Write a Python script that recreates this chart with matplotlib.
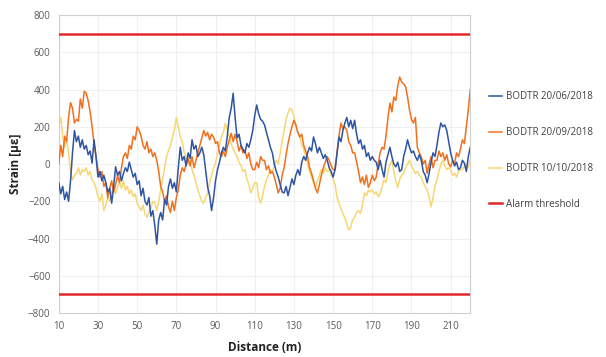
import matplotlib
matplotlib.use("Agg")
import matplotlib.pyplot as plt

distance = list(range(10, 221))

bodtr_2006 = [
    -100, -160, -120, -190, -150, -200, -90, 60, 180, 120,
    150, 90, 130, 80, 100, 50, 70, 5, 130, 40,
    -70, -40, -90, -60, -100, -150, -130, -210, -120, -15,
    -60, -40, -90, -50, -20, -40, 10, -30, -70, -50,
    -110, -90, -170, -130, -200, -220, -180, -280, -250, -330,
    -430, -300, -260, -300, -190, -220, -120, -80, -130, -100,
    -150, -20, 90, 20, 40, -10, 60, 30, 130, 80,
    100, 40, 60, 90, 50, -40, -125, -170, -250, -180,
    -90, -30, 10, 60, 90, 70, 150, 250, 300, 380,
    250, 140, 160, 100, 80, 60, 110, 90, 130, 180,
    260, 317, 270, 240, 230, 210, 170, 130, 90, 60,
    0, -40, -70, -110, -150, -155, -120, -170, -125, -80,
    -110, -60, -30, -60, 10, 40, 20, 60, 90, 70,
    145, 110, 60, 90, 60, 30, 50, 20, -20, -40,
    -70, -30, 60, 145, 120, 180, 220, 250, 200, 235,
    190, 235, 160, 110, 130, 80, 100, 40, 60, 20,
    40, 20, 10, -30, 20, -30, -70, 10, 50, 90,
    40, 0, -15, 10, -40, -30, 40, 80, 130, 90,
    60, 70, 40, 20, 50, 20, -40, -60, -100, -50,
    10, 60, 40, 100, 170, 220, 200, 210, 180, 120,
    60, 20, -10, 10, -30, -20, 20, 5, -40, 40,
    90,
]

bodtr_2009 = [
    0, 100, 40, 150, 120, 250, 330, 300, 220, 240,
    230, 350, 300, 390, 380, 340, 280, 200, 110, 40,
    -30, -70, -40, -120, -100, -180, -130, -90, -150, -110,
    -60, -100, -20, 40, 60, 30, 100, 80, 150, 130,
    200, 180, 150, 100, 80, 120, 60, 80, 40, 60,
    20, -40, -120, -150, -200, -170, -230, -260, -200, -250,
    -180, -140, -60, -20, -40, 0, 30, -10, 40, -20,
    20, 60, 100, 140, 180, 150, 170, 130, 160, 145,
    110, 120, 60, 40, 70, 40, 90, 130, 165, 120,
    160, 120, 70, 100, 60, 75, 30, 60, 0, -30,
    -30, 10, -20, 40, 20, 20, -30, -10, -50, -40,
    -70, -110, -155, -130, -60, -20, 50, 110, 160, 200,
    235, 210, 170, 145, 160, 100, 70, 40, -20, -50,
    -90, -130, -155, -110, -60, -20, 10, 40, 20, -10,
    -30, -30, 60, 150, 220, 190, 200, 180, 120, 100,
    60, 60, 10, -40, -100, -70, -110, -60, -125, -100,
    -60, -90, -70, 0, 60, 90, 80, 150, 250, 327,
    280, 360, 340, 420, 467, 440, 430, 415, 360, 290,
    240, 220, 250, 90, 60, 40, 0, 20, -50, 0,
    40, -20, 20, 20, 70, 40, 60, 20, 50, 0,
    -15, 20, 0, 60, 40, 80, 130, 110, 200, 290,
    400,
]

bodtr_1010 = [
    200, 250, 150, 90, 130, 60, -40, -85, -60, -50,
    -20, -60, -30, -40, -20, -60, -40, -85, -100, -130,
    -175, -200, -160, -250, -220, -175, -200, -150, -140, -160,
    -120, -100, -130, -90, -140, -120, -160, -140, -175, -160,
    -210, -230, -250, -220, -270, -285, -260, -240, -200, -210,
    -250, -200, -140, -80, -20, 40, 75, 100, 145, 180,
    250, 200, 145, 120, 60, 40, 0, 20, -30, -60,
    -100, -140, -170, -200, -210, -180, -155, -100, -60, -20,
    5, 60, 100, 145, 170, 220, 180, 150, 110, 80,
    60, 40, 10, -10, -40, -30, -80, -110, -155, -130,
    -100, -100, -180, -210, -170, -120, -85, -60, -30, -40,
    -10, 20, 0, 60, 120, 180, 240, 275, 300, 290,
    260, 200, 170, 145, 100, 80, 40, 0, -40, -70,
    -100, -125, -90, -60, -30, -50, -20, -40, -30, -60,
    -80, -110, -180, -210, -240, -265, -290, -320, -355, -340,
    -300, -285, -260, -250, -265, -220, -155, -170, -140, -150,
    -140, -160, -150, -175, -160, -120, -85, -100, -40, 0,
    20, -40, -90, -125, -80, -60, -50, -20, 0, 20,
    -10, -30, -50, -40, -60, -70, -100, -120, -140, -180,
    -230, -180, -120, -85, -40, 0, 20, -10, -30, -20,
    -30, -60, -50, -70, -40, -30, -30, -10, 0, -20,
    20,
]

alarm_levels = [700, -700]
x_ticks = list(range(10, 221, 20))
y_ticks = list(range(-800, 801, 200))

plt.rcParams['font.family'] = ['Open Sans', 'DejaVu Sans']

fig = plt.figure(figsize=(6.06, 3.57), dpi=100)
ax = fig.add_axes([0.097, 0.123, 0.679, 0.835])

l1, = ax.plot(distance, bodtr_2006, color='#2E54A3', lw=1.1, zorder=4, label='BODTR 20/06/2018')
l2, = ax.plot(distance, bodtr_2009, color='#F0701E', lw=1.1, zorder=3, label='BODTR 20/09/2018')
l3, = ax.plot(distance, bodtr_1010, color='#F7D774', lw=1.1, zorder=2, label='BODTR 10/10/2018')
for lvl in alarm_levels:
    l4 = ax.axhline(lvl, color='#E3262B', lw=1.8, zorder=5, label='Alarm threshold')

ax.set_xlim(10, 220)
ax.set_ylim(-800, 800)
ax.set_xticks(x_ticks)
ax.set_yticks(y_ticks)
ax.grid(True, color='#F0F0F0', lw=0.8, zorder=0)
ax.set_axisbelow(True)
for s in ax.spines.values():
    s.set_color('#D0D0D0')
    s.set_linewidth(0.8)
ax.tick_params(axis='both', length=0, labelsize=7, colors='#595959', pad=6)

ax.set_xlabel('Distance (m)', fontsize=8.5, fontweight='bold', labelpad=6, color='#222222')
ax.set_ylabel('Strain [\u03bc\u03b5]', fontsize=8.5, fontweight='bold', labelpad=4, color='#222222')

leg = ax.legend(handles=[l1, l2, l3, l4], loc='center left', bbox_to_anchor=(1.025, 0.545),
                frameon=False, fontsize=7, handlelength=1.3, handletextpad=0.4,
                labelspacing=2.55)
for t in leg.get_texts():
    t.set_color('#404040')

fig.savefig('out.png', dpi=100)
